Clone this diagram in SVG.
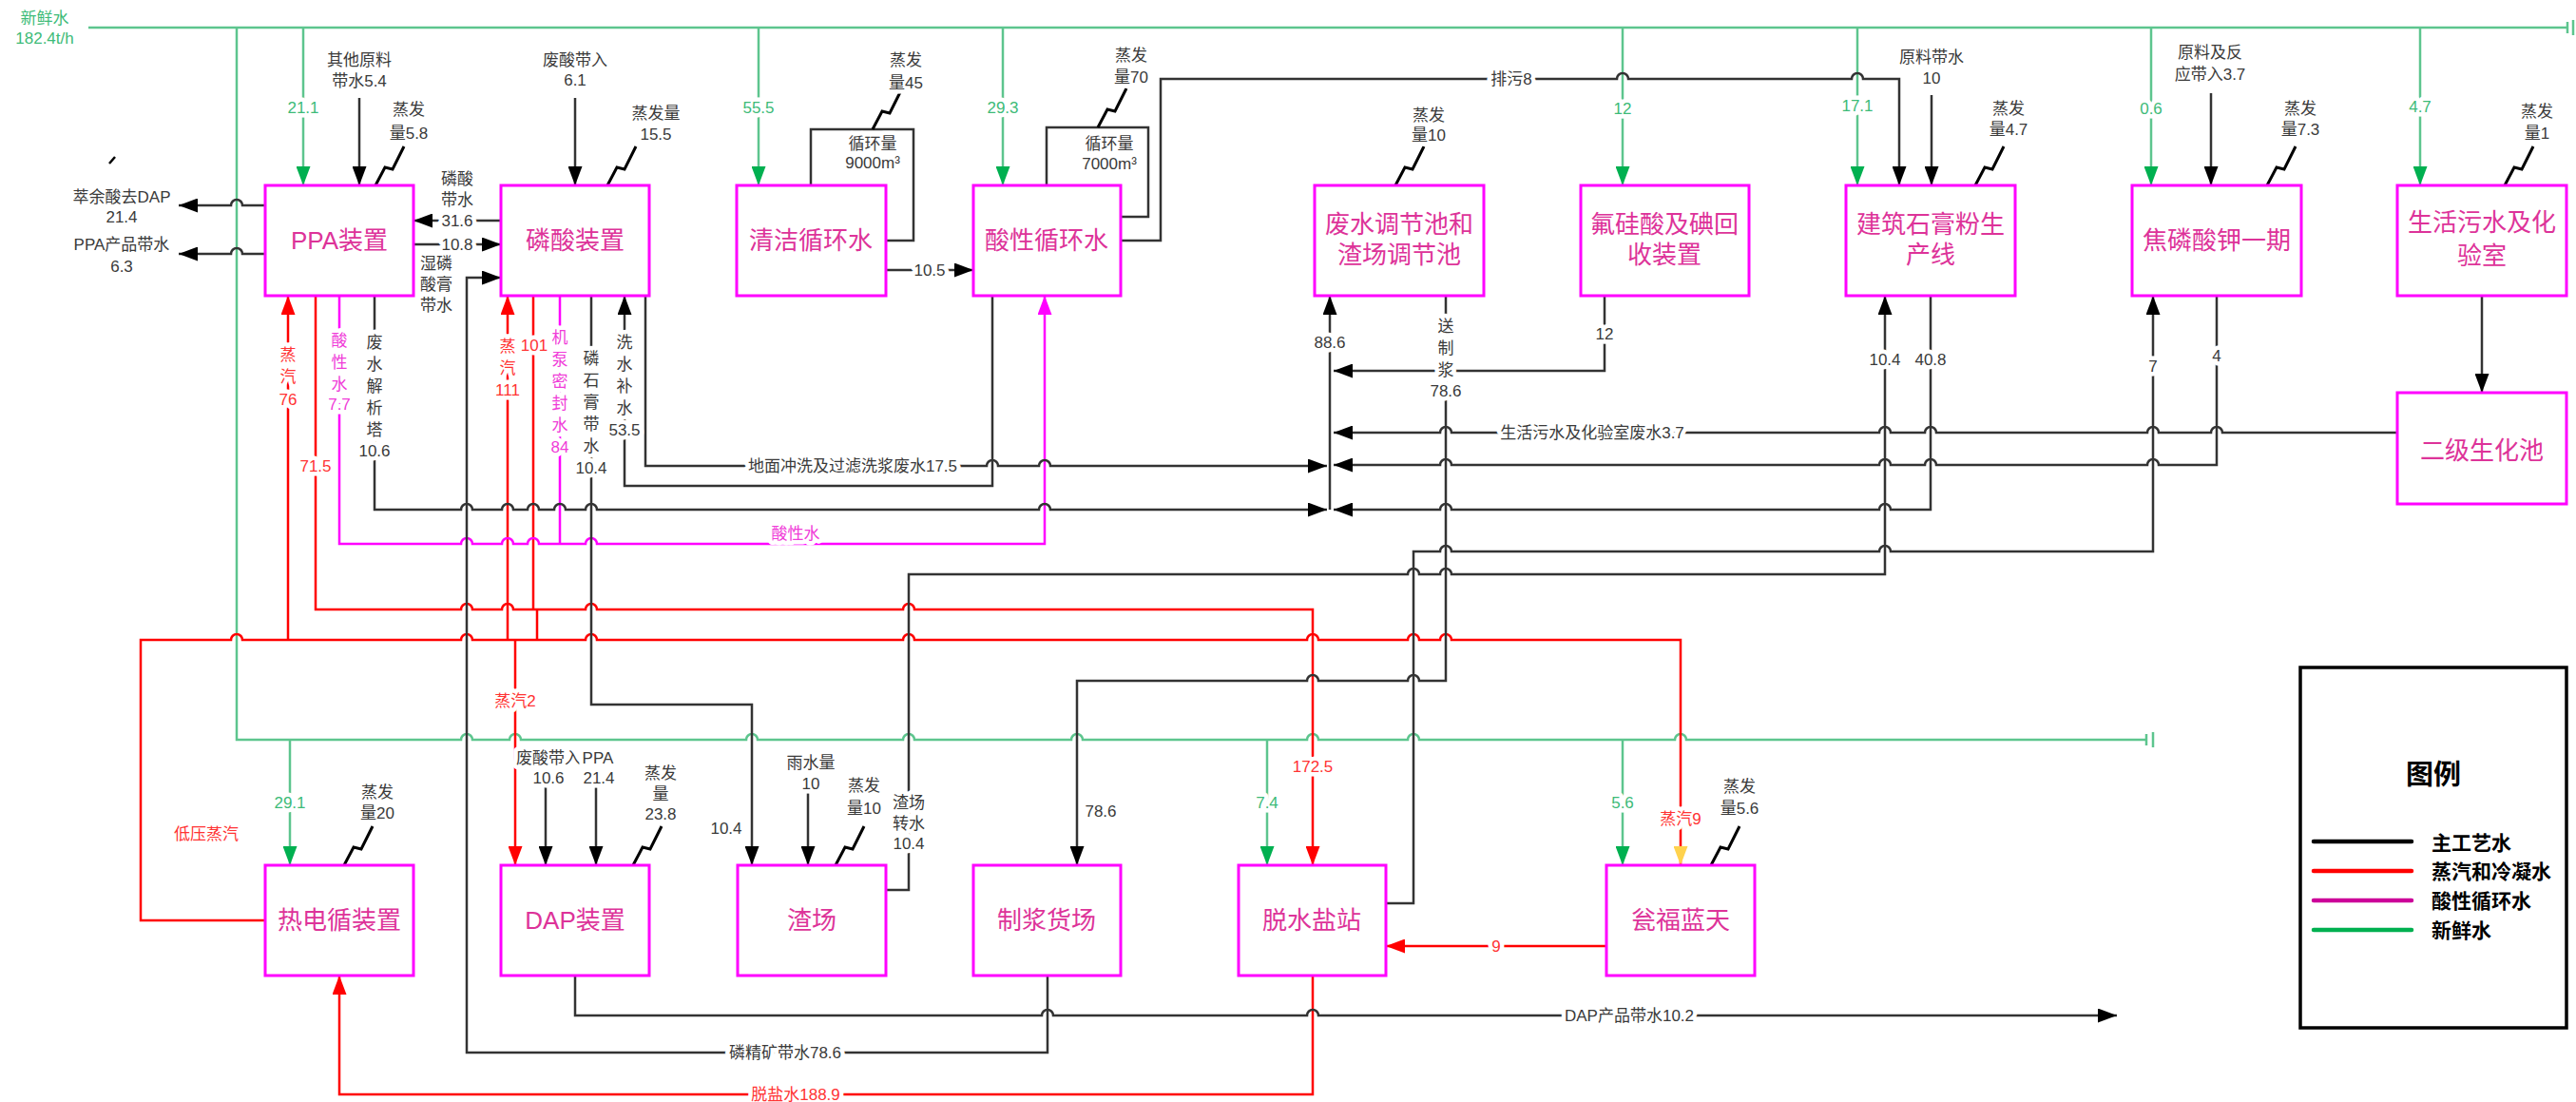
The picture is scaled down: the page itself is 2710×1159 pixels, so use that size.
<svg xmlns="http://www.w3.org/2000/svg" width="2710" height="1159" viewBox="0 0 2710 1159">
<style>
text{font-family:'Liberation Sans','Noto Sans CJK SC',sans-serif;text-anchor:middle;dominant-baseline:central}
.t{font-size:17px;fill:#3a3a3a;paint-order:stroke;stroke:#fff;stroke-width:9px;stroke-linejoin:round}
.tg{fill:#3DBB78}
.tr{fill:#FF3333}
.tm{fill:#F03CD8}
.bt{font-size:26px;fill:#DD3399}
.box{fill:#fff;stroke:#FF00FF;stroke-width:3}
.k{fill:none;stroke:#333;stroke-width:2.5}
.g{fill:none;stroke:#5DC58E;stroke-width:2.5}
.r{fill:none;stroke:#FF0000;stroke-width:2.5}
.m{fill:none;stroke:#FF00FF;stroke-width:2.5}
.z{fill:none;stroke:#000;stroke-width:3}
.ak{marker-end:url(#ak)}.ag{marker-end:url(#ag)}.ar{marker-end:url(#ar)}.am{marker-end:url(#am)}.ay{marker-end:url(#ay)}
</style>
<defs>
<marker id="ak" viewBox="0 0 20 15" refX="20" refY="7.5" markerWidth="20" markerHeight="15" markerUnits="userSpaceOnUse" orient="auto"><path d="M0,0L20,7.5L0,15z" fill="#000"/></marker>
<marker id="ag" viewBox="0 0 20 15" refX="20" refY="7.5" markerWidth="20" markerHeight="15" markerUnits="userSpaceOnUse" orient="auto"><path d="M0,0L20,7.5L0,15z" fill="#00B050"/></marker>
<marker id="ar" viewBox="0 0 20 15" refX="20" refY="7.5" markerWidth="20" markerHeight="15" markerUnits="userSpaceOnUse" orient="auto"><path d="M0,0L20,7.5L0,15z" fill="#FF0000"/></marker>
<marker id="am" viewBox="0 0 20 15" refX="20" refY="7.5" markerWidth="20" markerHeight="15" markerUnits="userSpaceOnUse" orient="auto"><path d="M0,0L20,7.5L0,15z" fill="#FF00FF"/></marker>
<marker id="ay" viewBox="0 0 20 15" refX="20" refY="7.5" markerWidth="20" markerHeight="15" markerUnits="userSpaceOnUse" orient="auto"><path d="M0,0L20,7.5L0,15z" fill="#FFD24D"/></marker>
</defs>
<rect width="2710" height="1159" fill="#fff"/>

<g id="connectors">
<!-- fresh water -->
<path class="g" d="M93,29H2701M2701,23V35M2707,21V37"/>
<path class="g" d="M249,29V778H485a6,6 0 0 1 12,0H536a6,6 0 0 1 12,0H785a6,6 0 0 1 12,0H950a6,6 0 0 1 12,0H1127a6,6 0 0 1 12,0H1375a6,6 0 0 1 12,0H1481a6,6 0 0 1 12,0H1762a6,6 0 0 1 12,0H2258M2258,772V784M2265,770V786"/>
<path class="g ag" d="M319,29V195"/>
<path class="g ag" d="M798,29V195"/>
<path class="g ag" d="M1055,29V195"/>
<path class="g ag" d="M1707,29V195"/>
<path class="g ag" d="M1954,29V195"/>
<path class="g ag" d="M2263,29V195"/>
<path class="g ag" d="M2546,29V195"/>
<path class="g ag" d="M305,778V910"/>
<path class="g ag" d="M1333,778V910"/>
<path class="g ag" d="M1707,778V910"/>
<!-- steam -->
<path class="r ay" d="M279,968H148V673H243a6,6 0 0 1 12,0H485a6,6 0 0 1 12,0H616a6,6 0 0 1 12,0H950a6,6 0 0 1 12,0H1375a6,6 0 0 1 12,0H1481a6,6 0 0 1 12,0H1515a6,6 0 0 1 12,0H1768V910"/>
<path class="r ar" d="M303,673V311"/>
<path class="r ar" d="M534,673V311"/>
<path class="r ar" d="M542,673V910"/>
<path class="r ar" d="M332,311V641H485a6,6 0 0 1 12,0H528a6,6 0 0 1 12,0H616a6,6 0 0 1 12,0H950a6,6 0 0 1 12,0H1381V910"/>
<path class="r" d="M561,311V641M565,641V673"/>
<path class="r ar" d="M1690,995H1458"/>
<path class="r ar" d="M1381,1026V1151H357V1026"/>
<!-- acid water -->
<path class="m am" d="M357,311V572H485a6,6 0 0 1 12,0H528a6,6 0 0 1 12,0H555a6,6 0 0 1 12,0H616a6,6 0 0 1 12,0H1099V311"/>
<path class="m" d="M589,311V572"/>
<!-- process water -->
<path class="k ak" d="M378,103V195"/>
<path class="k ak" d="M605,103V195"/>
<path class="k ak" d="M2032,100V195"/>
<path class="k ak" d="M2326,98V195"/>
<path class="k ak" d="M279,216H255a6,6 0 0 0 -12,0H188"/>
<path class="k ak" d="M279,267H255a6,6 0 0 0 -12,0H188"/>
<path class="k ak" d="M527,232H435"/>
<path class="k ak" d="M435,257H527"/>
<path class="k ak" d="M1102,1026V1107H491V292H527"/>
<path class="k ak" d="M932,284H1024"/>
<path class="k" d="M853,195V136H961V253H932"/>
<path class="k" d="M1101,195V134H1208V228H1179"/>
<path class="k ak" d="M1179,253H1221V83H1701a6,6 0 0 1 12,0H1948a6,6 0 0 1 12,0H1998V195"/>
<path class="k ak" d="M1044,311V511H657V311"/>
<path class="k ak" d="M679,311V490H1038a6,6 0 0 1 12,0H1093a6,6 0 0 1 12,0H1396"/>
<path class="k ak" d="M394,311V536H485a6,6 0 0 1 12,0H528a6,6 0 0 1 12,0H555a6,6 0 0 1 12,0H583a6,6 0 0 1 12,0H616a6,6 0 0 1 12,0H1093a6,6 0 0 1 12,0H1396"/>
<path class="k ak" d="M622,311V741H791V910"/>
<path class="k ak" d="M1521,311V716H1493a6,6 0 0 0 -12,0H1387a6,6 0 0 0 -12,0H1133V910"/>
<path class="k ak" d="M1688,311V390H1403"/>
<path class="k ak" d="M1399,536V311"/>
<path class="k ak" d="M2522,455H2338a6,6 0 0 0 -12,0H2271a6,6 0 0 0 -12,0H2037a6,6 0 0 0 -12,0H1989a6,6 0 0 0 -12,0H1527a6,6 0 0 0 -12,0H1403"/>
<path class="k ak" d="M2332,311V489H2271a6,6 0 0 0 -12,0H2037a6,6 0 0 0 -12,0H1989a6,6 0 0 0 -12,0H1527a6,6 0 0 0 -12,0H1403"/>
<path class="k ak" d="M2031,311V536H1989a6,6 0 0 0 -12,0H1527a6,6 0 0 0 -12,0H1403"/>
<path class="k ak" d="M932,936H956V604H1481a6,6 0 0 1 12,0H1515a6,6 0 0 1 12,0H1983V311"/>
<path class="k ak" d="M1458,950H1487V580H1515a6,6 0 0 1 12,0H1977a6,6 0 0 1 12,0H2265V311"/>
<path class="k ak" d="M605,1026V1068H1096a6,6 0 0 1 12,0H1375a6,6 0 0 1 12,0H2227"/>
<path class="k ak" d="M850,824V910"/>
<path class="k ak" d="M574,824V910"/>
<path class="k ak" d="M627,824V910"/>
<path class="k ak" d="M2611,311V413"/>
<!-- evaporation -->
<path class="z" d="M395,195l10,-19l8,2l12,-24M639,195l10,-19l8,2l12,-24M918,136l10,-19l8,2l12,-24M1155,134l10,-19l8,2l12,-24M1468,195l10,-19l8,2l12,-24M2078,195l10,-19l8,2l12,-24M2385,195l10,-19l8,2l12,-24M2635,195l10,-19l8,2l12,-24M362,910l10,-19l8,2l12,-24M666,910l10,-19l8,2l12,-24M879,910l10,-19l8,2l12,-24M1800,910l10,-19l8,2l12,-24"/>
<path d="M115,172L121,165" stroke="#000" stroke-width="2.5"/>
</g>

<g id="labels">
<text class="t tg" x="47" y="19">新鲜水</text>
<text class="t tg" x="47" y="40">182.4t/h</text>
<text class="t tg" x="319" y="113">21.1</text>
<text class="t tg" x="798" y="113">55.5</text>
<text class="t tg" x="1055" y="113">29.3</text>
<text class="t tg" x="1707" y="114">12</text>
<text class="t tg" x="1954" y="111">17.1</text>
<text class="t tg" x="2263" y="114">0.6</text>
<text class="t tg" x="2546" y="112">4.7</text>
<text class="t tg" x="305" y="844">29.1</text>
<text class="t tg" x="1333" y="844">7.4</text>
<text class="t tg" x="1707" y="844">5.6</text>

<text class="t" x="378" y="63">其他原料</text>
<text class="t" x="378" y="85">带水5.4</text>
<text class="t" x="605" y="63">废酸带入</text>
<text class="t" x="605" y="84">6.1</text>
<text class="t" x="2032" y="60">原料带水</text>
<text class="t" x="2032" y="82">10</text>
<text class="t" x="2325" y="55">原料及反</text>
<text class="t" x="2325" y="78">应带入3.7</text>
<text class="t" x="128" y="207">萃余酸去DAP</text>
<text class="t" x="128" y="228">21.4</text>
<text class="t" x="128" y="257">PPA产品带水</text>
<text class="t" x="128" y="280">6.3</text>
<text class="t" x="481" y="188">磷酸</text>
<text class="t" x="481" y="210">带水</text>
<text class="t" x="481" y="232">31.6</text>
<text class="t" x="481" y="257">10.8</text>
<text class="t" x="459" y="277">湿磷</text>
<text class="t" x="459" y="299">酸膏</text>
<text class="t" x="459" y="321">带水</text>
<text class="t"><tspan x="394" y="360">废</tspan><tspan x="394" y="383">水</tspan><tspan x="394" y="406">解</tspan><tspan x="394" y="429">析</tspan><tspan x="394" y="452">塔</tspan><tspan x="394" y="474">10.6</tspan></text>
<text class="t"><tspan x="657" y="360">洗</tspan><tspan x="657" y="383">水</tspan><tspan x="657" y="406">补</tspan><tspan x="657" y="429">水</tspan><tspan x="657" y="452">53.5</tspan></text>
<text class="t"><tspan x="622" y="377">磷</tspan><tspan x="622" y="400">石</tspan><tspan x="622" y="423">膏</tspan><tspan x="622" y="446">带</tspan><tspan x="622" y="469">水</tspan><tspan x="622" y="492">10.4</tspan></text>
<text class="t" x="897" y="490">地面冲洗及过滤洗浆废水17.5</text>
<text class="t" x="918" y="151">循环量</text>
<text class="t" x="918" y="171">9000m³</text>
<text class="t" x="1167" y="151">循环量</text>
<text class="t" x="1167" y="172">7000m³</text>
<text class="t" x="978" y="284">10.5</text>
<text class="t" x="1590" y="83">排污8</text>
<text class="t" x="1399" y="360">88.6</text>
<text class="t"><tspan x="1521" y="343">送</tspan><tspan x="1521" y="366">制</tspan><tspan x="1521" y="389">浆</tspan><tspan x="1521" y="411">78.6</tspan></text>
<text class="t" x="1688" y="351">12</text>
<text class="t" x="1675" y="455">生活污水及化验室废水3.7</text>
<text class="t" x="1983" y="378">10.4</text>
<text class="t" x="2031" y="378">40.8</text>
<text class="t" x="2265" y="385">7</text>
<text class="t" x="2332" y="374">4</text>
<text class="t" x="577" y="797">废酸带入</text>
<text class="t" x="629" y="797">PPA</text>
<text class="t" x="577" y="818">10.6</text>
<text class="t" x="630" y="818">21.4</text>
<text class="t" x="764" y="871">10.4</text>
<text class="t" x="853" y="802">雨水量</text>
<text class="t" x="853" y="824">10</text>
<text class="t"><tspan x="956" y="844">渣场</tspan><tspan x="956" y="866">转水</tspan><tspan x="956" y="887">10.4</tspan></text>
<text class="t" x="1158" y="853">78.6</text>
<text class="t" x="1714" y="1068">DAP产品带水10.2</text>
<text class="t" x="826" y="1107">磷精矿带水78.6</text>

<text class="t" x="430" y="115">蒸发</text>
<text class="t" x="430" y="140">量5.8</text>
<text class="t" x="690" y="119">蒸发量</text>
<text class="t" x="690" y="141">15.5</text>
<text class="t" x="953" y="63">蒸发</text>
<text class="t" x="953" y="87">量45</text>
<text class="t" x="1190" y="58">蒸发</text>
<text class="t" x="1190" y="81">量70</text>
<text class="t" x="1503" y="121">蒸发</text>
<text class="t" x="1503" y="142">量10</text>
<text class="t" x="2113" y="114">蒸发</text>
<text class="t" x="2113" y="136">量4.7</text>
<text class="t" x="2420" y="114">蒸发</text>
<text class="t" x="2420" y="136">量7.3</text>
<text class="t" x="2669" y="117">蒸发</text>
<text class="t" x="2669" y="140">量1</text>
<text class="t" x="397" y="833">蒸发</text>
<text class="t" x="397" y="855">量20</text>
<text class="t" x="695" y="813">蒸发</text>
<text class="t" x="695" y="835">量</text>
<text class="t" x="695" y="856">23.8</text>
<text class="t" x="909" y="826">蒸发</text>
<text class="t" x="909" y="850">量10</text>
<text class="t" x="1830" y="827">蒸发</text>
<text class="t" x="1830" y="850">量5.6</text>

<text class="t tr"><tspan x="303" y="373">蒸</tspan><tspan x="303" y="396">汽</tspan><tspan x="303" y="420">76</tspan></text>
<text class="t tr" x="332" y="490">71.5</text>
<text class="t tr"><tspan x="534" y="364">蒸</tspan><tspan x="534" y="387">汽</tspan><tspan x="534" y="410">111</tspan></text>
<text class="t tr" x="562" y="363">101</text>
<text class="t tr" x="542" y="737">蒸汽2</text>
<text class="t tr" x="1381" y="806">172.5</text>
<text class="t tr" x="1768" y="861">蒸汽9</text>
<text class="t tr" x="1574" y="995">9</text>
<text class="t tr" x="837" y="1151">脱盐水188.9</text>
<text class="t tr" x="217" y="877">低压蒸汽</text>
<text class="t tm"><tspan x="357" y="358">酸</tspan><tspan x="357" y="381">性</tspan><tspan x="357" y="404">水</tspan><tspan x="357" y="425">7.7</tspan></text>
<text class="t tm"><tspan x="589" y="355">机</tspan><tspan x="589" y="378">泵</tspan><tspan x="589" y="401">密</tspan><tspan x="589" y="424">封</tspan><tspan x="589" y="447">水</tspan><tspan x="589" y="470">84</tspan></text>
<text class="t tm" x="837" y="561">酸性水</text>
</g>

<g id="n-ppa"><rect class="box" x="279" y="195" width="156" height="116"/><text class="bt" x="357" y="253">PPA装置</text></g>
<g id="n-phos"><rect class="box" x="527" y="195" width="156" height="116"/><text class="bt" x="605" y="253">磷酸装置</text></g>
<g id="n-clean"><rect class="box" x="775" y="195" width="157" height="116"/><text class="bt" x="853" y="253">清洁循环水</text></g>
<g id="n-acid"><rect class="box" x="1024" y="195" width="155" height="116"/><text class="bt" x="1101" y="253">酸性循环水</text></g>
<g id="n-waste"><rect class="box" x="1383" y="195" width="178" height="116"/><text class="bt" x="1472" y="236">废水调节池和</text><text class="bt" x="1472" y="268">渣场调节池</text></g>
<g id="n-fsi"><rect class="box" x="1663" y="195" width="177" height="116"/><text class="bt" x="1751" y="236">氟硅酸及碘回</text><text class="bt" x="1751" y="268">收装置</text></g>
<g id="n-gyp"><rect class="box" x="1942" y="195" width="178" height="116"/><text class="bt" x="2031" y="236">建筑石膏粉生</text><text class="bt" x="2031" y="268">产线</text></g>
<g id="n-kpp"><rect class="box" x="2243" y="195" width="178" height="116"/><text class="bt" x="2332" y="253">焦磷酸钾一期</text></g>
<g id="n-life"><rect class="box" x="2522" y="195" width="178" height="116"/><text class="bt" x="2611" y="234">生活污水及化</text><text class="bt" x="2611" y="269">验室</text></g>
<g id="n-bio"><rect class="box" x="2522" y="413" width="178" height="117"/><text class="bt" x="2611" y="474">二级生化池</text></g>
<g id="n-thermal"><rect class="box" x="279" y="910" width="156" height="116"/><text class="bt" x="357" y="968">热电循装置</text></g>
<g id="n-dap"><rect class="box" x="527" y="910" width="156" height="116"/><text class="bt" x="605" y="968">DAP装置</text></g>
<g id="n-slag"><rect class="box" x="776" y="910" width="156" height="116"/><text class="bt" x="854" y="968">渣场</text></g>
<g id="n-slurry"><rect class="box" x="1024" y="910" width="155" height="116"/><text class="bt" x="1101" y="968">制浆货场</text></g>
<g id="n-desalt"><rect class="box" x="1303" y="910" width="155" height="116"/><text class="bt" x="1380" y="968">脱水盐站</text></g>
<g id="n-wf"><rect class="box" x="1690" y="910" width="156" height="116"/><text class="bt" x="1768" y="968">瓮福蓝天</text></g>

<g id="legend">
<rect x="2420" y="702" width="280" height="379" fill="#fff" stroke="#000" stroke-width="3.5"/>
<text x="2560" y="815" style="font-size:29px;font-weight:bold;fill:#000">图例</text>
<g stroke-width="4.5" stroke-linecap="round">
<line x1="2434" y1="885" x2="2537" y2="885" stroke="#000"/>
<line x1="2434" y1="916" x2="2537" y2="916" stroke="#FF0000"/>
<line x1="2434" y1="947" x2="2537" y2="947" stroke="#CC0099"/>
<line x1="2434" y1="978" x2="2537" y2="978" stroke="#00B050"/>
</g>
<g style="font-size:21px;font-weight:bold;fill:#000">
<text x="2558" y="886" style="text-anchor:start">主工艺水</text>
<text x="2558" y="916" style="text-anchor:start">蒸汽和冷凝水</text>
<text x="2558" y="947" style="text-anchor:start">酸性循环水</text>
<text x="2558" y="978" style="text-anchor:start">新鲜水</text>
</g>
</g>
</svg>
